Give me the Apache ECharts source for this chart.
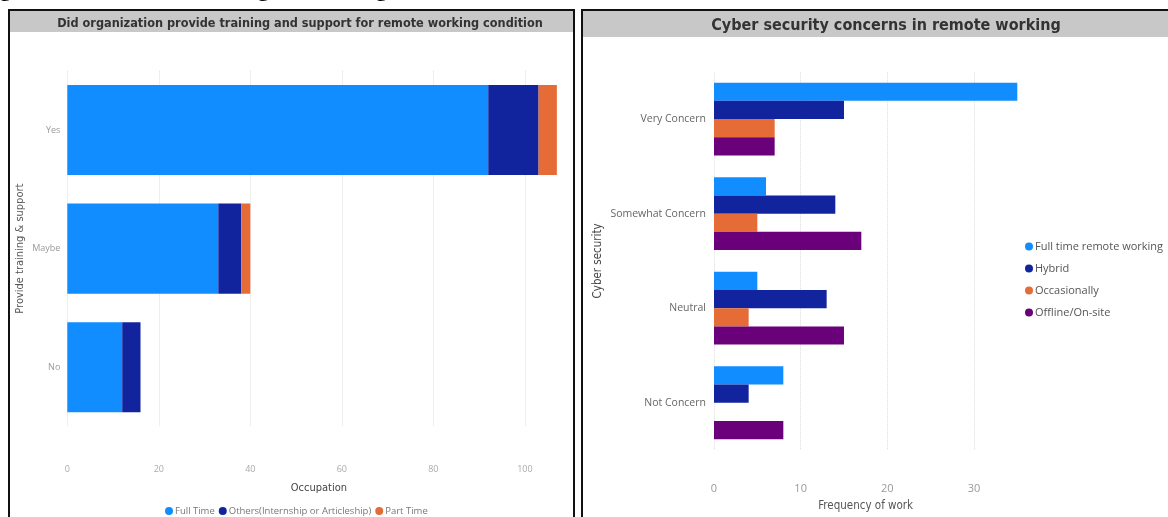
<!DOCTYPE html>
<html>
<head>
<meta charset="utf-8">
<script src="https://cdn.jsdelivr.net/npm/echarts@6/dist/echarts.min.js"></script>
<style>
html,body{margin:0;padding:0;background:#fff;}
#main{width:1168px;height:517px;}
</style>
</head>
<body>
<div id="main"></div>
<script>
// ---- Left chart data ----
const trainingCategories = ['Yes', 'Maybe', 'No'];
const fullTime = [92, 33, 12];
const othersInternship = [11, 5, 4];
const partTime = [4, 2, 0];
const leftTicks = [0, 20, 40, 60, 80, 100];

// ---- Right chart data ----
const concernCategories = ['Very Concern', 'Somewhat Concern', 'Neutral', 'Not Concern'];
const fullTimeRemote = [35, 6, 5, 8];
const hybrid = [15, 14, 13, 4];
const occasionally = [7, 5, 4, 0];
const offlineOnsite = [7, 17, 15, 8];
const rightTicks = [0, 10, 20, 30];

const C_BLUE = '#118DFF', C_NAVY = '#12239E', C_ORANGE = '#E66C37', C_PURPLE = '#6B007B';
const titleFont = '"DejaVu Sans Condensed", "DejaVu Sans", sans-serif';
const labelFont = '"Open Sans", "Noto Sans", sans-serif';

const chart = echarts.init(document.getElementById('main'), null, {renderer: 'canvas'});

const option = {
  backgroundColor: '#ffffff',
  animation: false,
  title: [
    {text: 'Did organization provide training and support for remote working condition',
     left: 295, textAlign: 'center', top: 12,
     textStyle: {fontFamily: titleFont, fontWeight: 'bold', fontSize: 12.6, color: '#333'}},
    {text: 'Cyber security concerns in remote working',
     left: 881, textAlign: 'center', top: 13,
     textStyle: {fontFamily: titleFont, fontWeight: 'bold', fontSize: 16, color: '#333'}}
  ],
  graphic: [
    {type: 'rect', z: -10, shape: {x: 10, y: 11, width: 563, height: 21}, style: {fill: '#c8c8c8'}},
    {type: 'rect', z: -10, shape: {x: 583, y: 11, width: 590, height: 26}, style: {fill: '#c8c8c8'}},
    {type: 'rect', z: 50, shape: {x: 9, y: 10, width: 565, height: 515}, style: {fill: 'none', stroke: '#111', lineWidth: 2}},
    {type: 'rect', z: 50, shape: {x: 582, y: 10, width: 595, height: 515}, style: {fill: 'none', stroke: '#111', lineWidth: 2}},
    {type: 'text', x: 0, y: -21, style: {text: 'g', font: 'bold 22px "Liberation Serif", serif', fill: '#111'}},
    {type: 'text', x: 258, y: -21, style: {text: 'g', font: 'bold 22px "Liberation Serif", serif', fill: '#111'}},
    {type: 'text', x: 376, y: -21, style: {text: 'g', font: 'bold 22px "Liberation Serif", serif', fill: '#111'}}
  ],
  legend: [
    {data: ['Full Time', 'Others(Internship or Articleship)', 'Part Time'],
     left: 160, top: 501, icon: 'circle', itemWidth: 8, itemHeight: 8, itemGap: 4,
     textStyle: {fontFamily: labelFont, fontSize: 9.5, color: '#777', padding: [0, 0, 0, -3]}},
    {data: ['Full time remote working', 'Hybrid', 'Occasionally', 'Offline/On-site'],
     orient: 'vertical', left: 1020, top: 236, icon: 'circle', itemWidth: 8, itemHeight: 8, itemGap: 11,
     textStyle: {fontFamily: labelFont, fontSize: 11, color: '#555', padding: [0, 0, 0, -3]}}
  ],
  grid: [
    {left: 67.3, top: 70.7, width: 503.3, height: 355.9},
    {left: 714, top: 71.8, width: 303.3, height: 380}
  ],
  xAxis: [
    {gridIndex: 0, type: 'value', min: 0, max: 110, interval: 20,
     name: 'Occupation', nameLocation: 'middle', nameGap: 56,
     nameTextStyle: {fontFamily: titleFont, fontSize: 11, color: '#444'},
     axisLine: {show: false}, axisTick: {show: false},
     axisLabel: {showMaxLabel: false, margin: 38, fontFamily: labelFont, fontSize: 9, color: '#aaa',
       formatter: v => leftTicks.includes(v) ? String(v) : ''},
     splitLine: {show: true, showMaxLine: false, lineStyle: {type: 'dotted', color: '#ddd'}}},
    {gridIndex: 1, type: 'value', min: 0, max: 35, interval: 10,
     name: 'Frequency of work', nameLocation: 'middle', nameGap: 50,
     nameTextStyle: {fontFamily: titleFont, fontSize: 11.5, color: '#555'},
     axisLine: {show: false}, axisTick: {show: false},
     axisLabel: {showMaxLabel: false, margin: 33, fontFamily: labelFont, fontSize: 11, color: '#999',
       formatter: v => rightTicks.includes(v) ? String(v) : ''},
     splitLine: {show: true, showMaxLine: false, lineStyle: {type: 'dotted', color: '#ddd'}}}
  ],
  yAxis: [
    {gridIndex: 0, type: 'category', data: trainingCategories, inverse: true,
     name: 'Provide training & support', nameLocation: 'middle', nameGap: 42,
     nameTextStyle: {fontFamily: titleFont, fontSize: 11, color: '#555'},
     axisLine: {show: false}, axisTick: {show: false},
     axisLabel: {margin: 7, fontFamily: labelFont, fontSize: 9, color: '#999'}},
    {gridIndex: 1, type: 'category', data: concernCategories, inverse: true,
     name: 'Cyber security', nameLocation: 'middle', nameGap: 110,
     nameTextStyle: {fontFamily: titleFont, fontSize: 11.5, color: '#444'},
     axisLine: {show: false}, axisTick: {show: false},
     axisLabel: {margin: 8, fontFamily: labelFont, fontSize: 10.5, color: '#666'}}
  ],
  series: [
    {name: 'Full Time', type: 'bar', stack: 'occ', xAxisIndex: 0, yAxisIndex: 0, data: fullTime,
     barCategoryGap: '24%', itemStyle: {color: C_BLUE}},
    {name: 'Others(Internship or Articleship)', type: 'bar', stack: 'occ', xAxisIndex: 0, yAxisIndex: 0,
     data: othersInternship, itemStyle: {color: C_NAVY}},
    {name: 'Part Time', type: 'bar', stack: 'occ', xAxisIndex: 0, yAxisIndex: 0, data: partTime,
     itemStyle: {color: C_ORANGE}},
    {name: 'Full time remote working', type: 'bar', xAxisIndex: 1, yAxisIndex: 1, data: fullTimeRemote,
     barGap: '0%', barCategoryGap: '23%', itemStyle: {color: C_BLUE}},
    {name: 'Hybrid', type: 'bar', xAxisIndex: 1, yAxisIndex: 1, data: hybrid,
     barGap: '0%', barCategoryGap: '23%', itemStyle: {color: C_NAVY}},
    {name: 'Occasionally', type: 'bar', xAxisIndex: 1, yAxisIndex: 1, data: occasionally,
     barGap: '0%', barCategoryGap: '23%', itemStyle: {color: C_ORANGE}},
    {name: 'Offline/On-site', type: 'bar', xAxisIndex: 1, yAxisIndex: 1, data: offlineOnsite,
     barGap: '0%', barCategoryGap: '23%', itemStyle: {color: C_PURPLE}}
  ]
};
chart.setOption(option);
</script>
</body>
</html>
